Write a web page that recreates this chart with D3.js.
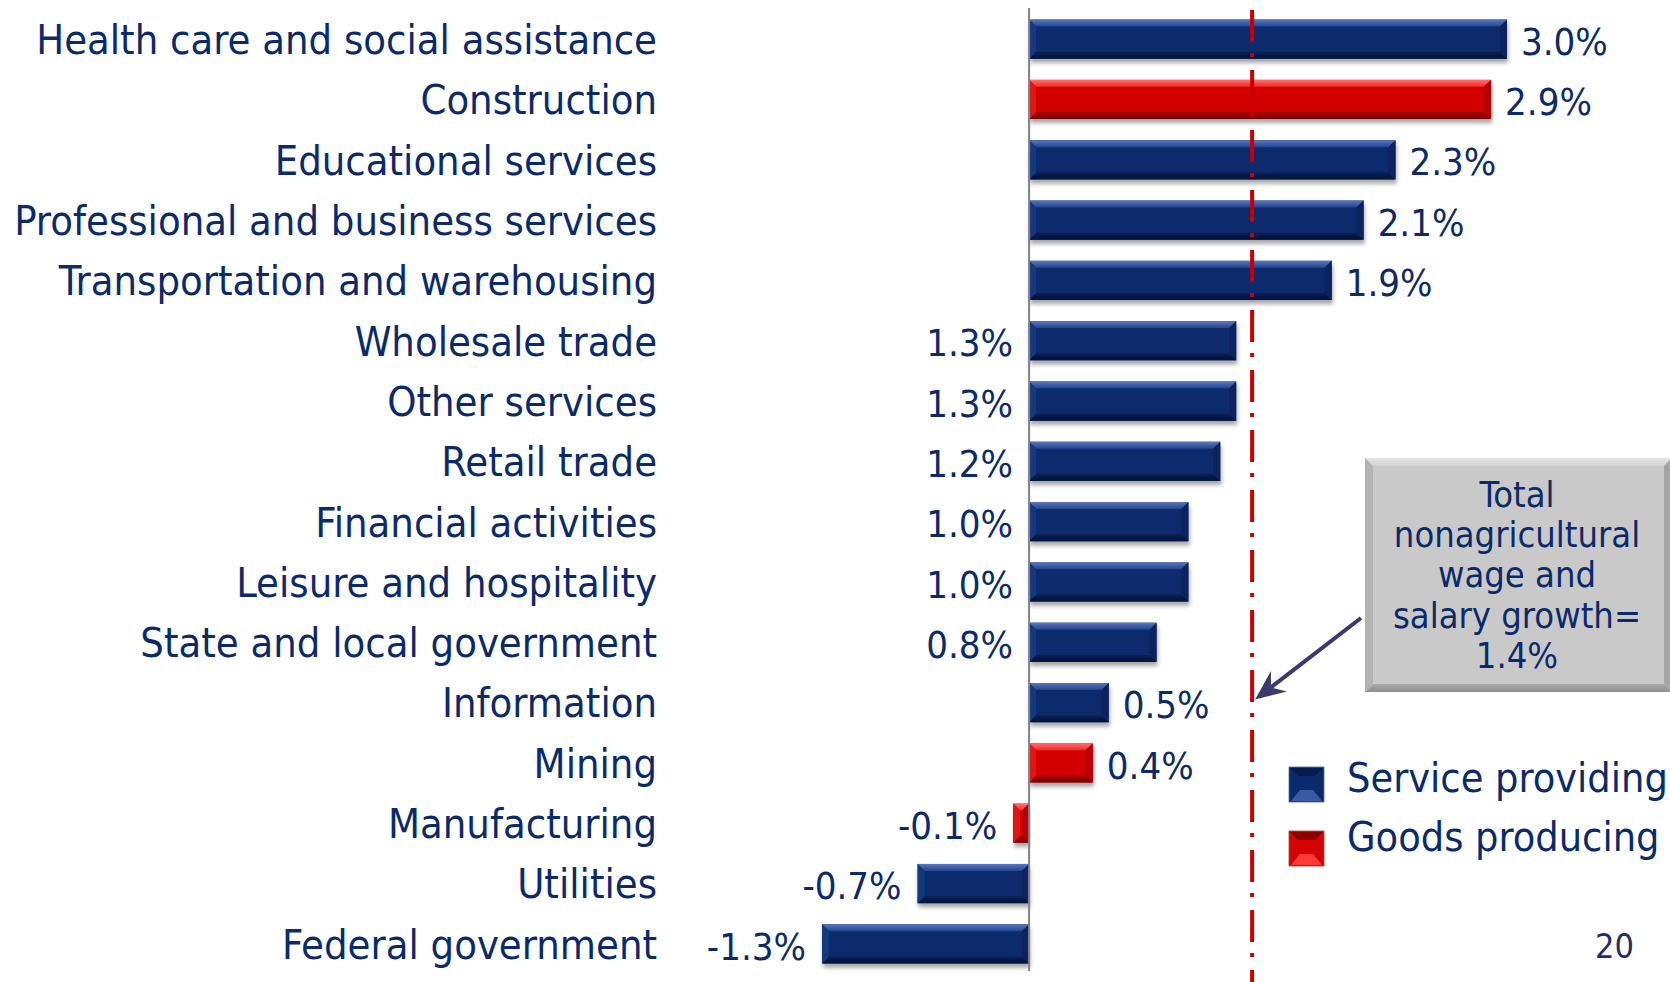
<!DOCTYPE html>
<html>
<head>
<meta charset="utf-8">
<script src="https://cdn.jsdelivr.net/npm/d3@7"></script>
<style>
  html, body { margin: 0; padding: 0; background: #ffffff; }
  svg { display: block; }
  text { font-family: "DejaVu Sans Condensed", "DejaVu Sans", sans-serif; font-stretch: condensed; }
</style>
</head>
<body>
<svg id="chart" width="1670" height="982"></svg>
<script>
// ---- data ----
const categories = [
  "Health care and social assistance",
  "Construction",
  "Educational services",
  "Professional and business services",
  "Transportation and warehousing",
  "Wholesale trade",
  "Other services",
  "Retail trade",
  "Financial activities",
  "Leisure and hospitality",
  "State and local government",
  "Information",
  "Mining",
  "Manufacturing",
  "Utilities",
  "Federal government"
];
const growth = [3.0, 2.9, 2.3, 2.1, 1.9, 1.3, 1.3, 1.2, 1.0, 1.0, 0.8, 0.5, 0.4, -0.1, -0.7, -1.3];
const sector = ["Service", "Goods", "Service", "Service", "Service", "Service", "Service", "Service",
                "Service", "Service", "Service", "Service", "Goods", "Goods", "Service", "Service"];
const labelsAtAxis = ["Wholesale trade", "Other services", "Retail trade", "Financial activities",
                      "Leisure and hospitality", "State and local government"];
const totalGrowth = 1.4;
const legendLabels = ["Service providing", "Goods producing"];
const legendKeys = ["Service", "Goods"];
const calloutLines = ["Total", "nonagricultural", "wage and", "salary growth=", "1.4%"];
const pageNumber = "20";

// ---- setup ----
const W = 1670, H = 982;
const svg = d3.select("#chart");
const textColor = "#0b2a6a";

const x = d3.scaleLinear().domain([-1.3, 3.0]).range([822, 1507]);
const y = d3.scaleBand().domain(categories).range([9, 974]).paddingInner(0.35).paddingOuter(0.175);

const palette = {
  Service: { face: "#0b2a6c", top0: "#5a78bc", top1: "#24448e", bot0: "#081f56", bot1: "#03133a", left: "#17377e", right: "#08235e" },
  Goods:   { face: "#d40404", top0: "#ff7070", top1: "#f02828", bot0: "#a80000", bot1: "#760000", left: "#e01414", right: "#b80000" }
};

const defs = svg.append("defs");
const shadow = defs.append("filter").attr("id", "shadow").attr("x", "-10%").attr("y", "-20%").attr("width", "120%").attr("height", "150%");
shadow.append("feGaussianBlur").attr("in", "SourceAlpha").attr("stdDeviation", 2.2).attr("result", "b");
shadow.append("feOffset").attr("in", "b").attr("dx", 1).attr("dy", 3.5).attr("result", "o");
shadow.append("feComponentTransfer").attr("in", "o").attr("result", "s")
  .append("feFuncA").attr("type", "linear").attr("slope", 0.35);
const sm = shadow.append("feMerge");
sm.append("feMergeNode").attr("in", "s");
sm.append("feMergeNode").attr("in", "SourceGraphic");

Object.keys(palette).forEach(k => {
  const p = palette[k];
  const gt = defs.append("linearGradient").attr("id", "top-" + k).attr("x1", 0).attr("y1", 0).attr("x2", 0).attr("y2", 1);
  gt.append("stop").attr("offset", "0%").attr("stop-color", p.top0);
  gt.append("stop").attr("offset", "100%").attr("stop-color", p.top1);
  const gb = defs.append("linearGradient").attr("id", "bot-" + k).attr("x1", 0).attr("y1", 0).attr("x2", 0).attr("y2", 1);
  gb.append("stop").attr("offset", "0%").attr("stop-color", p.bot0);
  gb.append("stop").attr("offset", "100%").attr("stop-color", p.bot1);
});

const rows = categories.map((c, i) => ({ cat: c, v: growth[i], s: sector[i] }));

// ---- bevelled bar drawing ----
function bevelBox(g, x0, y0, x1, y1, p, k, bv) {
  const b = Math.min(bv, (x1 - x0) / 2, (y1 - y0) / 2);
  g.append("rect").attr("x", x0).attr("y", y0).attr("width", x1 - x0).attr("height", y1 - y0).attr("fill", p.face);
  g.append("polygon").attr("points", [[x0, y0], [x1, y0], [x1 - b, y0 + b], [x0 + b, y0 + b]].join(" ")).attr("fill", "url(#top-" + k + ")");
  g.append("polygon").attr("points", [[x0, y1], [x1, y1], [x1 - b, y1 - b], [x0 + b, y1 - b]].join(" ")).attr("fill", "url(#bot-" + k + ")");
  g.append("polygon").attr("points", [[x0, y0], [x0 + b, y0 + b], [x0 + b, y1 - b], [x0, y1]].join(" ")).attr("fill", p.left);
  g.append("polygon").attr("points", [[x1, y0], [x1 - b, y0 + b], [x1 - b, y1 - b], [x1, y1]].join(" ")).attr("fill", p.right);
}

const bars = svg.append("g").attr("class", "bars");
rows.forEach(d => {
  const g = bars.append("g").attr("filter", "url(#shadow)");
  const x0 = x(Math.min(0, d.v)), x1 = x(Math.max(0, d.v));
  const y0 = y(d.cat), y1 = y(d.cat) + y.bandwidth();
  bevelBox(g, x0, y0, x1, y1, palette[d.s], d.s, 7);
});

// zero axis
svg.append("line")
  .attr("x1", x(0)).attr("x2", x(0)).attr("y1", 8).attr("y2", 971)
  .attr("stroke", "#80808e").attr("stroke-width", 2);

// total growth dash-dot line
svg.append("line")
  .attr("x1", x(totalGrowth)).attr("x2", x(totalGrowth)).attr("y1", 10).attr("y2", H)
  .attr("stroke", "#c80000").attr("stroke-width", 4)
  .attr("stroke-dasharray", "32 11 4 13");

// category labels
svg.append("g").selectAll("text").data(rows).join("text")
  .attr("x", 657)
  .attr("y", d => y(d.cat) + y.bandwidth() / 2)
  .attr("dy", "0.36em")
  .attr("text-anchor", "end")
  .attr("font-size", 41.3)
  .attr("fill", textColor)
  .text(d => d.cat);

// value labels
const fmt = v => v.toFixed(1) + "%";
svg.append("g").selectAll("text").data(rows).join("text")
  .attr("x", d => {
    if (labelsAtAxis.includes(d.cat)) return x(0) - 16;
    if (d.v < 0) return x(d.v) - 16;
    return x(d.v) + 14;
  })
  .attr("y", d => y(d.cat) + y.bandwidth() / 2 + 2)
  .attr("dy", "0.36em")
  .attr("text-anchor", d => (labelsAtAxis.includes(d.cat) || d.v < 0) ? "end" : "start")
  .attr("font-size", 38)
  .attr("fill", textColor)
  .text(d => fmt(d.v));

// callout box
const box = { x0: 1365, y0: 458, x1: 1672, y1: 692 };
const boxPal = { face: "#c9c9c9", top0: "#e4e4e4", top1: "#d2d2d2", bot0: "#a9a9a9", bot1: "#8f8f8f", left: "#b3b3b3", right: "#a5a5a5" };
const gbt = defs.append("linearGradient").attr("id", "top-box").attr("x1", 0).attr("y1", 0).attr("x2", 0).attr("y2", 1);
gbt.append("stop").attr("offset", "0%").attr("stop-color", boxPal.top0);
gbt.append("stop").attr("offset", "100%").attr("stop-color", boxPal.top1);
const gbb = defs.append("linearGradient").attr("id", "bot-box").attr("x1", 0).attr("y1", 0).attr("x2", 0).attr("y2", 1);
gbb.append("stop").attr("offset", "0%").attr("stop-color", boxPal.bot0);
gbb.append("stop").attr("offset", "100%").attr("stop-color", boxPal.bot1);
bevelBox(svg.append("g"), box.x0, box.y0, box.x1, box.y1, boxPal, "box", 8);
svg.append("g").selectAll("text").data(calloutLines).join("text")
  .attr("x", 1517)
  .attr("y", (d, i) => 507 + i * 40.2)
  .attr("text-anchor", "middle")
  .attr("font-size", 36)
  .attr("fill", textColor)
  .text(d => d);

// arrow from box to total line
const tip = [x(totalGrowth) + 3, y("Information") + y.bandwidth() / 2 - 3];
const tail = [box.x0 - 4, 618];
const ang = Math.atan2(tail[1] - tip[1], tail[0] - tip[0]);
const headLen = 30, headW = 13, notch = 20;
const ux = Math.cos(ang), uy = Math.sin(ang), px = -uy, py = ux;
const base = [tip[0] + ux * headLen, tip[1] + uy * headLen];
const nb = [tip[0] + ux * notch, tip[1] + uy * notch];
svg.append("line")
  .attr("x1", tail[0]).attr("y1", tail[1]).attr("x2", nb[0]).attr("y2", nb[1])
  .attr("stroke", "#393b6c").attr("stroke-width", 4);
svg.append("polygon")
  .attr("points", [tip, [base[0] + px * headW, base[1] + py * headW], nb, [base[0] - px * headW, base[1] - py * headW]].join(" "))
  .attr("fill", "#393b6c");

// legend
const leg = svg.append("g");
legendKeys.forEach((k, i) => {
  const gy = 767 + i * 64;
  const g = leg.append("g");
  const p = palette[k];
  const x0 = 1289, s = 35;
  g.append("rect").attr("x", x0).attr("y", gy).attr("width", s).attr("height", s).attr("fill", p.face)
    .attr("stroke", k === "Service" ? "#5a6a90" : "#a04040").attr("stroke-width", 0.8);
  g.append("polygon").attr("points", [[x0 + 2, gy + s - 1], [x0 + s - 2, gy + s - 1], [x0 + s - 11, gy + s - 12], [x0 + 11, gy + s - 12]].join(" "))
    .attr("fill", k === "Service" ? "#3b5aa4" : "#ff3838");
  g.append("polygon").attr("points", [[x0 + 1, gy + 1], [x0 + s - 1, gy + 1], [x0 + s - 9, gy + 9], [x0 + 9, gy + 9]].join(" "))
    .attr("fill", k === "Service" ? "#071c4e" : "#8c0000");
  leg.append("text")
    .attr("x", 1347).attr("y", 792 + i * 59)
    .attr("font-size", 41)
    .attr("fill", textColor)
    .text(legendLabels[i]);
});

// page number
svg.append("text")
  .attr("x", 1634).attr("y", 958)
  .attr("text-anchor", "end")
  .attr("font-size", 34)
  .attr("fill", "#1f2b6e")
  .text(pageNumber);
</script>
</body>
</html>
